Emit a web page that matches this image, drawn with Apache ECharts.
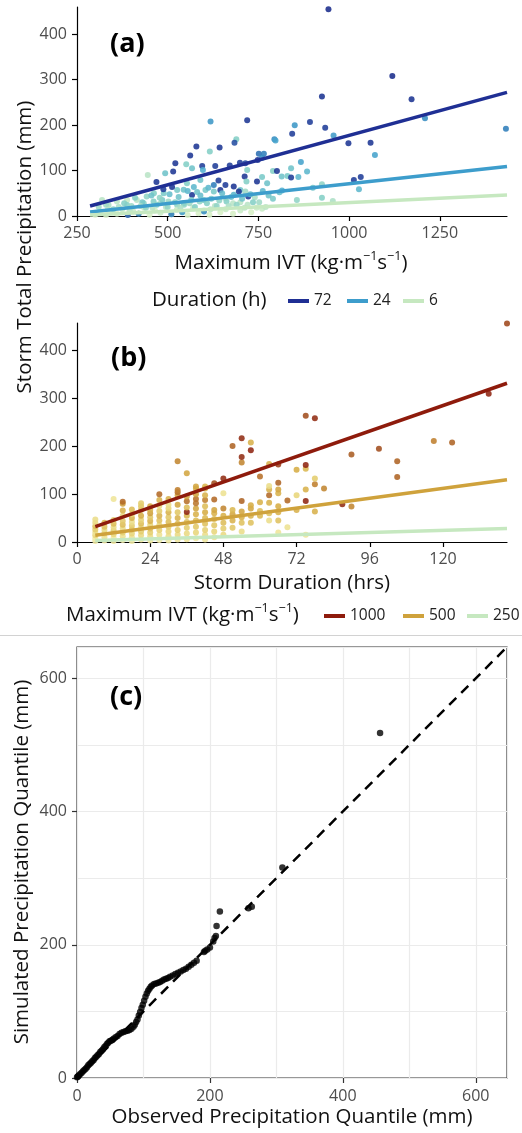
<!DOCTYPE html>
<html><head><meta charset="utf-8">
<script src="https://cdn.jsdelivr.net/npm/echarts@6/dist/echarts.min.js"></script>
<style>html,body{margin:0;padding:0;background:#fff}#c{width:522px;height:1133px}</style>
</head><body><div id="c"></div>
<script>
const FONT = "'Open Sans', 'Noto Sans', sans-serif";

// ---------- Panel (a): precipitation vs maximum IVT, colour = duration (h) ----------
const aXTicks = [250, 500, 750, 1000, 1250];
const aYTicks = [0, 100, 200, 300, 400];
// [maxIVT, precip, duration]
const aPoints = [
  [943,455,110],[1119,308,110],[925,263,100],[1172,257,100],[1209,215,54],[1432,192,60],
  [618,208,50],[719,211,96],[850,200,50],[892,207,90],[934,194,90],[957,177,48],[843,181,90],[794,169,54],[797,166,45],
  [689,169,24],[684,161,80],[998,160,96],[1059,161,96],[1071,134,45],
  [579,153,96],[643,151,96],[616,142,24],[562,133,96],[751,137,66],[765,137,60],[760,128,54],[748,123,96],
  [867,119,45],[840,105,30],[884,98,36],[790,99,24],[801,99,96],[814,87,30],[830,88,27],[840,85,90],[1013,79,90],[1032,86,90],[1027,59,36],
  [925,70,21],[925,40,24],[856,35,21],[955,33,15],[815,56,40],
  [521,116,96],[515,98,96],[493,94,30],[551,114,24],[567,105,30],[595,110,90],[597,101,40],[631,110,90],[671,111,90],[699,117,90],[719,101,24],[714,116,80],[712,87,96],
  [590,79,30],[640,78,90],[627,68,60],[659,68,90],[682,65,96],[700,57,30],[696,54,96],[714,54,18],[722,43,90],[740,41,15],
  [760,86,27],[746,76,96],[774,72,30],[717,76,24],
  [469,75,96],[445,90,12],[489,50,27],[526,57,27],[512,64,96],[544,58,30],[553,72,24],[572,64,36],[567,46,96],[581,53,30],[604,57,27],[627,54,27],[645,57,96],[659,39,12],[682,47,36],
  [415,35,12],[388,35,9],[360,32,12],[319,35,12],[337,24,15],[388,24,24],[434,28,21],[461,32,24],[480,28,12],[526,24,21],[544,28,36],[599,35,27],[488,59,90],[462,50,24],[442,43,21],
  [300,3,6],[315,8,6],[330,2,6],[345,12,9],[360,5,6],[375,15,9],[390,4,6],[405,10,9],[420,6,6],[435,18,9],[450,3,6],[465,12,6],[480,7,9],[495,20,12],[510,4,6],[525,14,9],[540,9,6],[555,2,6],[570,18,9],[585,6,6],[600,12,9],[615,3,6],[630,22,12],[645,8,6],[660,15,9],[680,5,6],[700,12,9],[720,25,12],[730,8,6],[745,18,9],[760,16,9],[770,20,12],[700,30,12],[680,28,12],
  [390,2,72],[420,5,60],[510,4,60],[540,8,48],[600,10,54],
  [310,20,18],[330,25,18],[350,15,21],[380,28,24],[400,22,18],[410,40,24],[430,30,27],[440,18,21],[455,45,30],[470,25,24],[485,35,27],[500,20,21],[505,48,33],[520,30,24],[530,42,30],[545,25,21],[555,55,36],[565,35,27],[575,20,24],[590,45,33],[608,28,24],[612,62,36],[620,38,27],[635,22,21],[650,50,33],[662,32,24],[675,42,30],[690,25,21],[705,38,30],[728,48,33],[735,30,24],[762,55,36],[778,45,30],[790,38,27],[808,52,33],[860,86,36],[900,62,30],
  [335,14,12],[365,20,15],[395,12,12],[425,22,15],[458,18,12],[478,40,21],[502,32,18],[535,18,15],[560,28,18],[588,32,21],[618,15,12],[642,34,21],[668,22,15],[712,18,12],[752,30,18]
];
const aLineIVT = [286, 1435];
const aLine72 = [22, 272];
const aLine24 = [9, 109];
const aLine6 = [2, 46];
const aLegend = ['72', '24', '6'];

// ---------- Panel (b): precipitation vs storm duration, colour = maximum IVT ----------
const bXTicks = [0, 24, 48, 72, 96, 120];
const bYTicks = [0, 100, 200, 300, 400];
// [duration, precip, maxIVT]
const bPoints = [
  [6,2,320],[6,8,300],[6,14,420],[6,20,360],[6,26,460],[6,33,520],[6,40,400],[6,47,380],
  [9,3,300],[9,10,350],[9,18,430],[9,25,380],[9,32,500],[9,40,540],
  [12,2,330],[12,9,310],[12,16,410],[12,24,460],[12,31,380],[12,38,520],[12,46,440],[12,90,340],
  [15,4,300],[15,12,360],[15,20,440],[15,28,380],[15,36,520],[15,44,470],[15,55,400],[15,66,560],[15,80,620],[15,84,780],
  [18,2,310],[18,10,350],[18,18,420],[18,26,500],[18,34,460],[18,42,380],[18,50,560],[18,58,420],[18,68,520],
  [21,5,330],[21,14,400],[21,22,460],[21,30,380],[21,38,520],[21,46,440],[21,55,580],[21,67,520],[21,75,480],[21,81,460],
  [24,3,320],[24,12,380],[24,20,450],[24,28,500],[24,36,420],[24,44,560],[24,52,480],[24,60,620],[24,67,560],[24,75,600],
  [27,4,300],[27,15,360],[27,25,440],[27,35,420],[27,45,500],[27,55,560],[27,65,460],[27,76,400],[27,88,560],[27,100,780],
  [30,3,310],[30,12,380],[30,22,420],[30,32,460],[30,42,520],[30,52,480],[30,62,560],[30,70,420],[30,78,380],[30,90,560],
  [33,5,330],[33,15,400],[33,25,460],[33,38,520],[33,50,560],[33,62,480],[33,78,600],[33,98,580],[33,104,760],[33,109,720],[33,169,700],
  [36,6,340],[36,18,400],[36,30,460],[36,42,500],[36,55,540],[36,63,980],[36,72,520],[36,85,760],[36,95,600],[36,144,600],
  [39,8,320],[39,20,420],[39,32,480],[39,45,520],[39,58,560],[39,70,600],[39,81,740],[39,90,760],[39,100,620],[39,112,560],[39,116,600],
  [42,5,330],[42,15,380],[42,25,440],[42,38,500],[42,50,540],[42,62,580],[42,75,520],[42,88,720],[42,98,560],[42,112,580],[42,116,540],
  [45,10,360],[45,22,420],[45,35,480],[45,48,520],[45,60,560],[45,67,600],[45,89,780],[45,123,860],
  [48,15,400],[48,28,460],[48,40,520],[48,55,560],[48,70,700],[48,102,360],[48,133,960],
  [51,30,480],[51,45,560],[51,58,600],[51,67,540],[51,201,800],
  [54,22,380],[54,40,500],[54,52,560],[54,64,600],[54,86,800],[54,166,700],[54,178,960],[54,217,960],
  [57,40,500],[57,55,560],[57,70,600],[57,77,580],[57,192,980],[57,208,560],
  [60,55,540],[60,65,520],[60,83,560],[60,137,760],
  [63,45,380],[63,60,500],[63,82,560],[63,98,780],[63,110,560],[63,117,380],[63,163,560],
  [66,20,340],[66,45,500],[66,62,560],[66,75,580],[66,102,560],[66,110,600],[66,124,800],[66,162,900],
  [69,31,360],[69,87,780],
  [72,67,560],[72,98,420],[72,151,580],
  [75,15,340],[75,86,980],[75,110,560],[75,153,540],[75,161,980],[75,264,860],
  [78,64,560],[78,121,720],[78,133,460],[78,259,960],
  [81,112,700],[87,79,960],[90,74,700],[90,183,820],[99,195,860],
  [105,136,800],[105,169,800],[117,211,720],[123,208,800],[135,310,980],[141,457,880]
];
const bLineDur = [6, 141];
const bLine1000 = [32, 332];
const bLine500 = [14, 130];
const bLine250 = [3, 28];
const bLegend = ['1000', '500', '250'];

// ---------- Panel (c): Q-Q plot ----------
const cTicks = [0, 200, 400, 600];
const cObs = [0,1,2,3,5,7,9,11,13,15,17,19,21,23,25,27,29,31,33,35,37,39,41,43,45,47,49,51,53,55,58,61,64,67,70,73,76,79,82,85,87,89,91,93,95,97,99,101,103,105,107,109,111,113,116,119,122,125,128,131,134,137,140,144,148,152,156,160,164,168,172,176,180,191,193,196,200,205,207,209,210,215,258,263,309,456];
const cSim = [1,2,3,4,6,8,10,12,14,16,19,21,23,25,27,30,32,34,36,39,41,43,46,48,51,53,55,56,57,59,61,63,66,68,69,70,71,72,74,77,80,84,88,94,99,105,110,116,122,127,131,134,137,139,141,142,143,144,146,148,149,150,152,154,156,158,160,162,164,167,170,173,176,189,191,193,196,205,210,213,228,250,255,257,316,518];
const cLine = [0, 647];

const TS = 20.5;
const titleStyle = {fontFamily: FONT, fontSize: TS, fill: '#111', align: 'center', verticalAlign: 'middle'};
const supRich = {
  n: {fontFamily: FONT, fontSize: TS, fill: '#111', lineHeight: 26},
  s: {fontFamily: FONT, fontSize: 12.5, fill: '#111', lineHeight: 26, padding: [0, 0, 13, 0]}
};
const ivtText = '{n|Maximum IVT (kg·m}{s|\u22121}{n|s}{s|\u22121}{n|)}';
const tickLabel = {fontFamily: FONT, fontSize: 16, color: '#4d4d4d', formatter: v => String(v)};

function classicX(grid, min, max, ticks) {
  return {gridIndex: grid, type: 'value', min: min, max: max,
    axisLine: {show: true, lineStyle: {color: '#000', width: 1.2}},
    axisTick: {show: true, customValues: ticks, length: 5, lineStyle: {color: '#000', width: 1.2}},
    axisLabel: Object.assign({customValues: ticks, margin: 9}, tickLabel),
    splitLine: {show: false}};
}
function classicY(grid, min, max, ticks) {
  return {gridIndex: grid, type: 'value', min: min, max: max,
    axisLine: {show: true, lineStyle: {color: '#000', width: 1.2}},
    axisTick: {show: true, customValues: ticks, length: 5, lineStyle: {color: '#000', width: 1.2}},
    axisLabel: Object.assign({customValues: ticks, margin: 10}, tickLabel),
    splitLine: {show: false}};
}
function bwAxis(min, max, ticks) {
  return {gridIndex: 2, type: 'value', min: min, max: max,
    axisLine: {show: false},
    axisTick: {show: true, customValues: ticks, length: 5, lineStyle: {color: '#333', width: 1.2}},
    axisLabel: Object.assign({customValues: ticks, margin: 10}, tickLabel),
    splitLine: {show: false}};
}
function bwGridAxis(min, max) {
  return {gridIndex: 2, type: 'value', min: min, max: max, interval: 100,
    axisLine: {show: false}, axisTick: {show: false}, axisLabel: {show: false},
    splitLine: {show: true, lineStyle: {color: '#ebebeb', width: 1.2}}};
}
function pairs(xs, ys) { return xs.map((x, i) => [x, ys[i]]); }
function fitLine(name, color, xs, ys, ax) {
  return {type: 'line', name: name, xAxisIndex: ax, yAxisIndex: ax, data: pairs(xs, ys),
    symbol: 'none', color: color, itemStyle: {color: color},
    lineStyle: {color: color, width: 3.5}, z: 4, silent: true};
}
function legendItem(name, left, top) {
  return {data: [name], left: left, top: top, padding: 0, icon: 'rect', itemWidth: 21, itemHeight: 4,
    selectedMode: false, textStyle: {fontFamily: FONT, fontSize: 15.5, color: '#222'}};
}

const chart = echarts.init(document.getElementById('c'), null, {renderer: 'canvas'});
chart.setOption({
  animation: false,
  backgroundColor: '#fff',
  textStyle: {fontFamily: FONT},
  grid: [
    {left: 77, top: 7, width: 430, height: 209},
    {left: 77, top: 323, width: 430, height: 219},
    {left: 77, top: 647, width: 430, height: 431, show: true, borderColor: '#333', borderWidth: 1.2, backgroundColor: 'transparent'}
  ],
  xAxis: [classicX(0, 250, 1435, aXTicks), classicX(1, 0, 141, bXTicks), bwAxis(0, 647, cTicks), bwGridAxis(0, 647)],
  yAxis: [classicY(0, 0, 460, aYTicks), classicY(1, 0, 458, bYTicks), bwAxis(0, 647, cTicks), bwGridAxis(0, 647)],
  visualMap: [
    {type: 'continuous', show: false, seriesIndex: 0, dimension: 2, min: 6, max: 110,
      inRange: {color: ['#d6efc6', '#86d0c6', '#4eaed0', '#3183be', '#2757a6', '#1f3a96', '#1a2c8c']}},
    {type: 'continuous', show: false, seriesIndex: 4, dimension: 2, min: 300, max: 1000,
      inRange: {color: ['#f2eca8', '#e6d274', '#d6ad45', '#bf7f2f', '#a24f1f', '#8c1f10']}}
  ],
  legend: [
    legendItem(aLegend[0], 288, 293), legendItem(aLegend[1], 347, 293), legendItem(aLegend[2], 403, 293),
    legendItem(bLegend[0], 324, 608), legendItem(bLegend[1], 403, 608), legendItem(bLegend[2], 467, 608)
  ],
  series: [
    {type: 'scatter', xAxisIndex: 0, yAxisIndex: 0, data: aPoints, symbolSize: 6, itemStyle: {opacity: 0.88}, z: 2, silent: true},
    fitLine('72', '#1f2f94', aLineIVT, aLine72, 0),
    fitLine('24', '#3d9dcc', aLineIVT, aLine24, 0),
    fitLine('6', '#c6e8c0', aLineIVT, aLine6, 0),
    {type: 'scatter', xAxisIndex: 1, yAxisIndex: 1, data: bPoints, symbolSize: 6, itemStyle: {opacity: 0.88}, z: 2, silent: true},
    fitLine('1000', '#8e1b0c', bLineDur, bLine1000, 1),
    fitLine('500', '#cfa23c', bLineDur, bLine500, 1),
    fitLine('250', '#c6e8c0', bLineDur, bLine250, 1),
    {type: 'scatter', xAxisIndex: 2, yAxisIndex: 2, data: pairs(cObs, cSim), symbolSize: 6.5, itemStyle: {color: '#000'}, z: 3, silent: true},
    {type: 'line', xAxisIndex: 2, yAxisIndex: 2, data: pairs(cLine, cLine), symbol: 'none',
      lineStyle: {color: '#000', width: 2.5, type: [10, 7]}, z: 4, silent: true}
  ],
  graphic: [
    {type: 'text', x: 110, y: 44, style: {text: '(a)', fontFamily: FONT, fontSize: 27, fontWeight: 'bold', fill: '#000', verticalAlign: 'middle'}},
    {type: 'text', x: 111, y: 358, style: {text: '(b)', fontFamily: FONT, fontSize: 27, fontWeight: 'bold', fill: '#000', verticalAlign: 'middle'}},
    {type: 'text', x: 110, y: 697, style: {text: '(c)', fontFamily: FONT, fontSize: 27, fontWeight: 'bold', fill: '#000', verticalAlign: 'middle'}},
    {type: 'text', x: 291, y: 263, style: {text: ivtText, rich: supRich, align: 'center', verticalAlign: 'middle'}},
    {type: 'text', x: 292, y: 583, style: Object.assign({text: 'Storm Duration (hrs)'}, titleStyle)},
    {type: 'text', x: 292, y: 1117, style: Object.assign({text: 'Observed Precipitation Quantile (mm)'}, titleStyle)},
    {type: 'text', x: 25, y: 247, rotation: Math.PI / 2, style: Object.assign({text: 'Storm Total Precipitation (mm)'}, titleStyle)},
    {type: 'text', x: 22, y: 862, rotation: Math.PI / 2, style: Object.assign({text: 'Simulated Precipitation Quantile (mm)'}, titleStyle)},
    {type: 'text', x: 152, y: 300, style: Object.assign({text: 'Duration (h)'}, titleStyle, {align: 'left'})},
    {type: 'text', x: 66, y: 615, style: {text: ivtText, rich: supRich, align: 'left', verticalAlign: 'middle'}},
    {type: 'line', shape: {x1: 0, y1: 635.5, x2: 522, y2: 635.5}, style: {stroke: '#d2d2d2', lineWidth: 1}}
  ]
});
</script>
</body></html>
